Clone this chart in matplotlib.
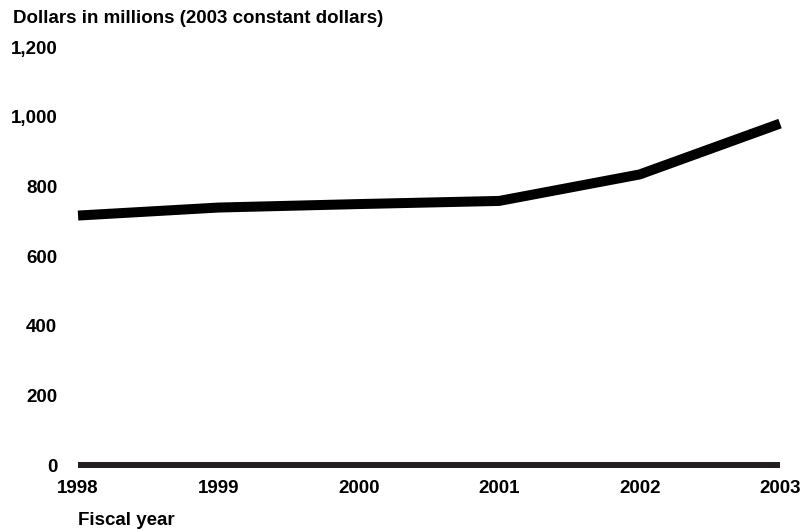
#!/usr/bin/env python3
"""
Line chart: dollars in millions (2003 constant dollars) by fiscal year.
"""

import matplotlib
matplotlib.use("Agg")
import matplotlib.pyplot as plt

years = [1998, 1999, 2000, 2001, 2002, 2003]
dollars = [717, 740, 750, 759, 835, 981]
y_ticks = [0, 200, 400, 600, 800, 1000, 1200]
y_labels = ["0", "200", "400", "600", "800", "1,000", "1,200"]

plt.rcParams["font.family"] = ["Liberation Sans", "DejaVu Sans"]
plt.rcParams["font.weight"] = "bold"

FS = 13.5


def main():
    fig = plt.figure(figsize=(8.02, 5.31), dpi=100)
    ax = fig.add_axes([0.0973, 0.1237, 0.8753, 0.7872])

    # Zero baseline
    ax.axhline(0, color="#231f20", linewidth=4.3, solid_capstyle="butt",
               clip_on=False)

    # Data line
    ax.plot(years, dollars, color="black", linewidth=7.2,
            solid_capstyle="butt", solid_joinstyle="miter", clip_on=False)

    ax.set_xlim(years[0], years[-1])
    ax.set_ylim(0, 1200)
    ax.set_xticks(years)
    ax.set_xticklabels([str(y) for y in years], fontsize=FS, fontweight="bold")
    ax.set_yticks(y_ticks)
    ax.set_yticklabels(y_labels, fontsize=FS, fontweight="bold")
    ax.tick_params(axis="both", length=0)
    ax.tick_params(axis="y", pad=15)
    ax.tick_params(axis="x", pad=10.5)

    for spine in ax.spines.values():
        spine.set_visible(False)

    fig.text(13 / 802, 1 - 23 / 531, "Dollars in millions (2003 constant dollars)",
             fontsize=FS, fontweight="bold", ha="left", va="baseline")
    fig.text(78 / 802, 1 - 525 / 531, "Fiscal year",
             fontsize=FS, fontweight="bold", ha="left", va="baseline")

    fig.savefig("out.png", dpi=100)
    plt.close(fig)


if __name__ == "__main__":
    main()
